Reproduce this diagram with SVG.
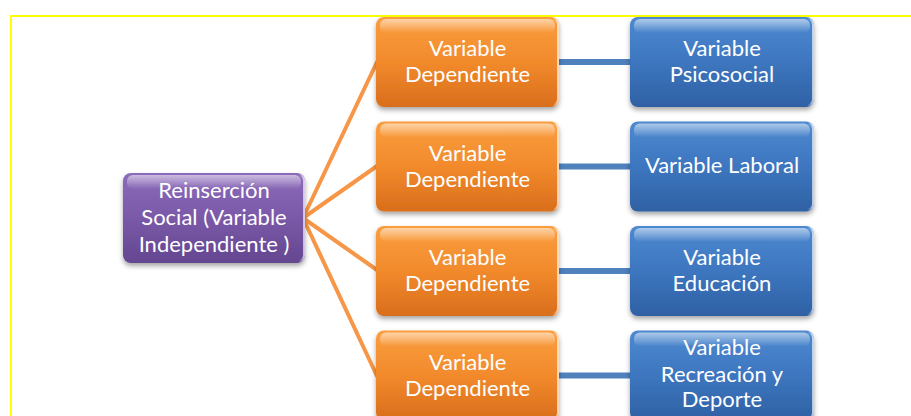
<svg xmlns="http://www.w3.org/2000/svg" width="911" height="416" viewBox="0 0 911 416">
<style>
.t{font-family:Lato,"Liberation Sans",Arial,sans-serif;font-size:22px;fill:#ffffff;text-anchor:middle}
.oc{stroke:#F79646;stroke-width:4;fill:none;stroke-linecap:round}
.bc{stroke:#4F81BD;stroke-width:6;fill:none}
.gl{fill:url(#gloss)}
.edge{fill:none;stroke:url(#edgeG);stroke-width:2}
</style>
<defs>
<linearGradient id="gO" x1="0" y1="0" x2="0" y2="1">
<stop offset="0" stop-color="#FA9E3E"/><stop offset="0.5" stop-color="#F28A2C"/><stop offset="1" stop-color="#D96E1C"/>
</linearGradient>
<linearGradient id="gB" x1="0" y1="0" x2="0" y2="1">
<stop offset="0" stop-color="#4D89D0"/><stop offset="0.5" stop-color="#3D76BF"/><stop offset="1" stop-color="#2F61A4"/>
</linearGradient>
<linearGradient id="gP" x1="0" y1="0" x2="0" y2="1">
<stop offset="0" stop-color="#8C6BBA"/><stop offset="0.5" stop-color="#7A59A8"/><stop offset="1" stop-color="#644690"/>
</linearGradient>
<linearGradient id="gloss" x1="0" y1="0" x2="0" y2="1">
<stop offset="0" stop-color="#ffffff" stop-opacity="0.55"/><stop offset="1" stop-color="#ffffff" stop-opacity="0"/>
</linearGradient>
<linearGradient id="edgeG" x1="0" y1="0" x2="1" y2="0">
<stop offset="0" stop-color="#ffffff" stop-opacity="0"/><stop offset="0.97" stop-color="#ffffff" stop-opacity="0"/><stop offset="1" stop-color="#ffffff" stop-opacity="0.7"/>
</linearGradient>
<filter id="sh" x="-10%" y="-10%" width="120%" height="130%">
<feGaussianBlur in="SourceAlpha" stdDeviation="2.5"/>
<feOffset dx="0" dy="3" result="b"/>
<feFlood flood-color="#000000" flood-opacity="0.35"/>
<feComposite in2="b" operator="in"/>
<feMerge><feMergeNode/><feMergeNode in="SourceGraphic"/></feMerge>
</filter>
</defs>
<rect width="911" height="416" fill="#ffffff"/>
<path d="M11 416 V16 H911" fill="none" stroke="#FFFF00" stroke-width="2"/>
<g id="connectors">
<line class="oc" x1="303" y1="218" x2="377" y2="62"/>
<line class="oc" x1="303" y1="218" x2="377" y2="166"/>
<line class="oc" x1="303" y1="218" x2="377" y2="270"/>
<line class="oc" x1="303" y1="218" x2="377" y2="376"/>
<line class="bc" x1="558" y1="62" x2="632" y2="62"/>
<line class="bc" x1="558" y1="166.5" x2="632" y2="166.5"/>
<line class="bc" x1="558" y1="271" x2="632" y2="271"/>
<line class="bc" x1="558" y1="375.5" x2="632" y2="375.5"/>
</g>
<g id="root">
<rect x="123" y="173" width="182" height="90" rx="8" fill="url(#gP)" filter="url(#sh)"/>
<rect x="127" y="175" width="174" height="14" rx="6" class="gl"/>
<rect x="124" y="174" width="180" height="88" rx="7" class="edge"/>
<text class="t" x="214" y="198">Reinserción</text>
<text class="t" x="214" y="225">Social (Variable</text>
<text class="t" x="214" y="252">Independiente )</text>
</g>
<g id="dep1">
<rect x="376" y="17" width="183" height="90" rx="8" fill="url(#gO)" filter="url(#sh)"/>
<rect x="380" y="19" width="175" height="14" rx="6" class="gl"/>
<rect x="377" y="18" width="181" height="88" rx="7" class="edge"/>
<text class="t" x="467.5" y="56">Variable</text>
<text class="t" x="467.5" y="82">Dependiente</text>
</g>
<g id="dep2">
<rect x="376" y="121.5" width="183" height="90" rx="8" fill="url(#gO)" filter="url(#sh)"/>
<rect x="380" y="123.5" width="175" height="14" rx="6" class="gl"/>
<rect x="377" y="122.5" width="181" height="88" rx="7" class="edge"/>
<text class="t" x="467.5" y="160.5">Variable</text>
<text class="t" x="467.5" y="186.5">Dependiente</text>
</g>
<g id="dep3">
<rect x="376" y="226" width="183" height="90" rx="8" fill="url(#gO)" filter="url(#sh)"/>
<rect x="380" y="228" width="175" height="14" rx="6" class="gl"/>
<rect x="377" y="227" width="181" height="88" rx="7" class="edge"/>
<text class="t" x="467.5" y="265">Variable</text>
<text class="t" x="467.5" y="291">Dependiente</text>
</g>
<g id="dep4">
<rect x="376" y="330.5" width="183" height="90" rx="8" fill="url(#gO)" filter="url(#sh)"/>
<rect x="380" y="332.5" width="175" height="14" rx="6" class="gl"/>
<rect x="377" y="331.5" width="181" height="88" rx="7" class="edge"/>
<text class="t" x="467.5" y="369.5">Variable</text>
<text class="t" x="467.5" y="395.5">Dependiente</text>
</g>
<g id="psicosocial">
<rect x="630" y="17" width="184" height="90" rx="8" fill="url(#gB)" filter="url(#sh)"/>
<rect x="634" y="19" width="176" height="14" rx="6" class="gl"/>
<rect x="631" y="18" width="182" height="88" rx="7" class="edge"/>
<text class="t" x="722" y="56">Variable</text>
<text class="t" x="722" y="82">Psicosocial</text>
</g>
<g id="laboral">
<rect x="630" y="121.5" width="184" height="90" rx="8" fill="url(#gB)" filter="url(#sh)"/>
<rect x="634" y="123.5" width="176" height="14" rx="6" class="gl"/>
<rect x="631" y="122.5" width="182" height="88" rx="7" class="edge"/>
<text class="t" x="722" y="173">Variable Laboral</text>
</g>
<g id="educacion">
<rect x="630" y="226" width="184" height="90" rx="8" fill="url(#gB)" filter="url(#sh)"/>
<rect x="634" y="228" width="176" height="14" rx="6" class="gl"/>
<rect x="631" y="227" width="182" height="88" rx="7" class="edge"/>
<text class="t" x="722" y="265">Variable</text>
<text class="t" x="722" y="291">Educación</text>
</g>
<g id="recreacion">
<rect x="630" y="330.5" width="184" height="90" rx="8" fill="url(#gB)" filter="url(#sh)"/>
<rect x="634" y="332.5" width="176" height="14" rx="6" class="gl"/>
<rect x="631" y="331.5" width="182" height="88" rx="7" class="edge"/>
<text class="t" x="722" y="355">Variable</text>
<text class="t" x="722" y="381.5">Recreación y</text>
<text class="t" x="722" y="407">Deporte</text>
</g>
</svg>
